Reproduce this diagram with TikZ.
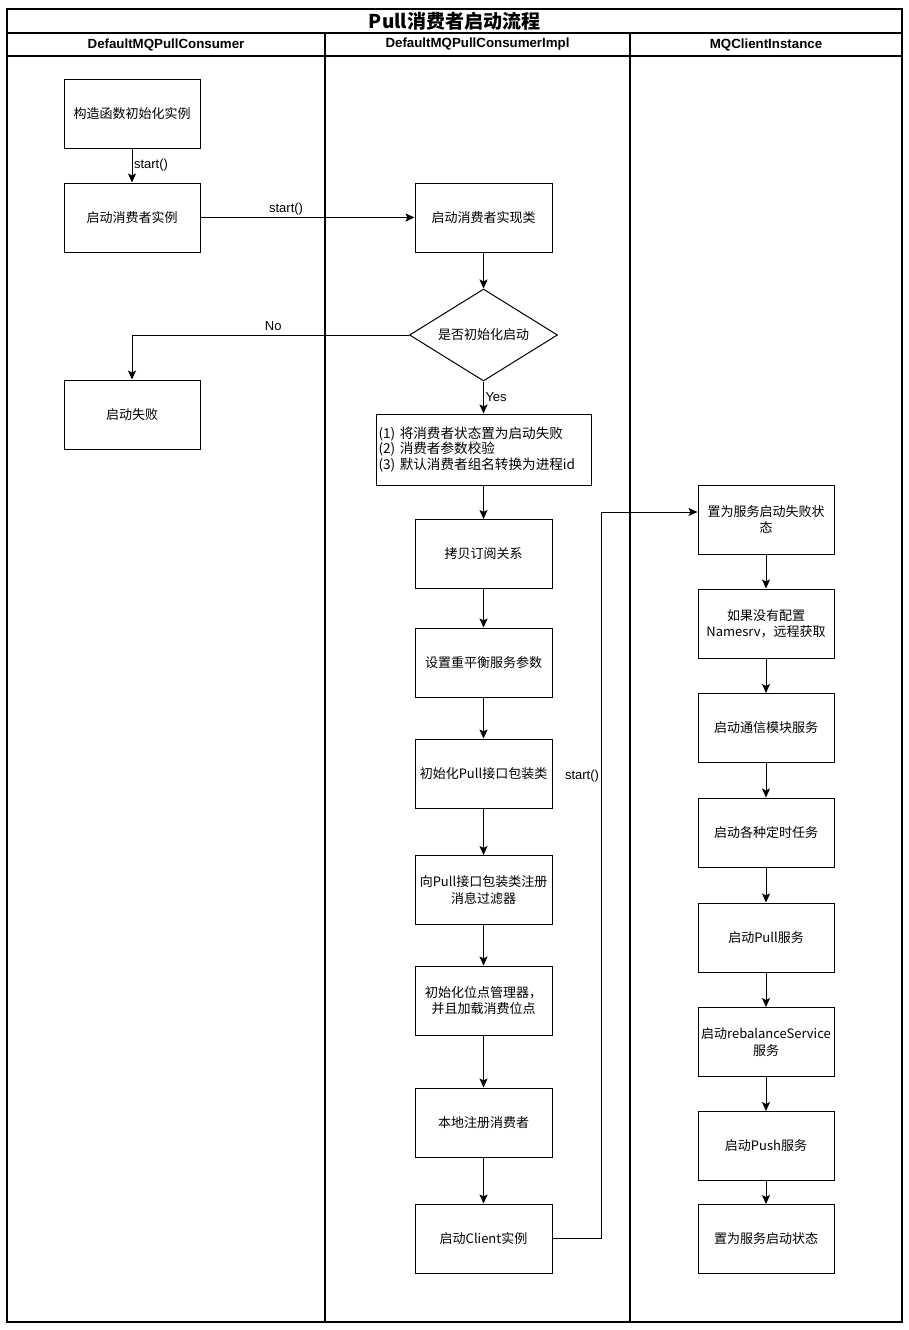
\documentclass[tikz,border=0pt]{standalone}
\usepackage{fontspec}
\setmainfont{Noto Sans CJK SC}
\newfontfamily\lat{Liberation Sans}
\usetikzlibrary{arrows.meta,shapes.geometric}
\begin{document}
\begin{tikzpicture}[x=1pt,y=-1pt,
  box/.style={draw, line width=1pt, minimum width=137pt, minimum height=69pt,
    align=center, inner sep=2pt, font=\fontsize{13}{16.5}\selectfont},
  arr/.style={-{Stealth[length=9pt,width=8pt,inset=2pt]}, line width=1pt},
  lbl/.style={font=\lat\fontsize{13}{15}\selectfont, inner sep=1.5pt},
  lane/.style={line width=1.2pt},
  hdr/.style={font=\lat\bfseries\fontsize{13.3}{15}\selectfont, inner sep=0pt}
]
\useasboundingbox (0,0) rectangle (908,1330);
\fill[white] (0,0) rectangle (908,1330);

% swimlane frame
\draw[lane] (7,9) rectangle (902,1322);
\draw[lane] (7,33) -- (902,33);
\draw[lane] (7,56) -- (902,56);
\draw[lane] (325,33) -- (325,1322);
\draw[lane] (630,33) -- (630,1322);

\node[font=\bfseries\fontsize{19}{20}\selectfont, inner sep=0pt] (title) at (454.5,21) {Pull消费者启动流程};
\node[hdr] (h1) at (166,44.5) {DefaultMQPullConsumer};
\node[hdr] (h2) at (477.5,44.5) {DefaultMQPullConsumerImpl};
\node[hdr] (h3) at (766,44.5) {MQClientInstance};

% left lane
\node[box, minimum width=136pt] (b1) at (132,113.5) {构造函数初始化实例};
\node[box, minimum width=136pt] (b2) at (132,217.5) {启动消费者实例};
\node[box, minimum width=136pt] (fail) at (132,414.5) {启动失败};

% middle lane
\node[box] (impl) at (483.5,217.5) {启动消费者实现类};
\node[draw, line width=1pt, diamond, aspect=1.6, minimum width=148pt, minimum height=92pt,
  inner sep=1pt, font=\fontsize{13}{16}\selectfont] (dia) at (483.5,335) {是否初始化启动};
\node[draw, line width=1pt, text width=210pt, minimum height=71pt, align=left, inner sep=2.5pt,
  font=\fontsize{13.6}{15.5}\selectfont] (multi) at (483.5,449.5)
  {(1) 将消费者状态置为启动失败\\(2) 消费者参数校验\\(3) 默认消费者组名转换为进程id};
\node[box] (copy) at (483.5,554) {拷贝订阅关系};
\node[box] (rebal) at (483.5,662.5) {设置重平衡服务参数};
\node[box] (initpull) at (483.5,773.5) {初始化Pull接口包装类};
\node[box] (filter) at (483.5,890) {向Pull接口包装类注册\\消息过滤器};
\node[box] (offset) at (483.5,1000.5) {初始化位点管理器，\\并且加载消费位点};
\node[box] (reg) at (483.5,1122.5) {本地注册消费者};
\node[box] (client) at (483.5,1238.5) {启动Client实例};

% right lane
\node[box, minimum width=136pt] (r1) at (766,519.5) {置为服务启动失败状\\态};
\node[box, minimum width=136pt] (r2) at (766,623.5) {如果没有配置\\Namesrv，远程获取};
\node[box, minimum width=136pt] (r3) at (766,728) {启动通信模块服务};
\node[box, minimum width=136pt] (r4) at (766,832.5) {启动各种定时任务};
\node[box, minimum width=136pt] (r5) at (766,937.5) {启动Pull服务};
\node[box, minimum width=136pt] (r6) at (766,1042) {启动rebalanceService\\服务};
\node[box, minimum width=136pt] (r7) at (766,1146) {启动Push服务};
\node[box, minimum width=136pt] (r8) at (766,1239) {置为服务启动状态};

% connectors
\draw[arr] (b1) -- node[lbl, right] {start()} (b2);
\draw[arr] (b2) -- node[lbl, above, pos=0.4] {start()} (impl);
\draw[arr] (impl) -- (dia);
\draw[arr] (dia.west) -| node[lbl, above, pos=0.245, yshift=2pt] {No} (fail.north);
\draw[arr] (dia.south) -- node[lbl, right] {Yes} (multi.north);
\draw[arr] (multi) -- (copy);
\draw[arr] (copy) -- (rebal);
\draw[arr] (rebal) -- (initpull);
\draw[arr] (initpull) -- (filter);
\draw[arr] (filter) -- (offset);
\draw[arr] (offset) -- (reg);
\draw[arr] (reg) -- (client);

\coordinate (j1) at (601,1238.5);
\draw[arr] (client.east) -- (j1) |- node[lbl, left, pos=0.318] {start()} ([yshift=7.5pt]r1.west);

\draw[arr] (r1) -- (r2);
\draw[arr] (r2) -- (r3);
\draw[arr] (r3) -- (r4);
\draw[arr] (r4) -- (r5);
\draw[arr] (r5) -- (r6);
\draw[arr] (r6) -- (r7);
\draw[arr] (r7) -- (r8);
\end{tikzpicture}
\end{document}
